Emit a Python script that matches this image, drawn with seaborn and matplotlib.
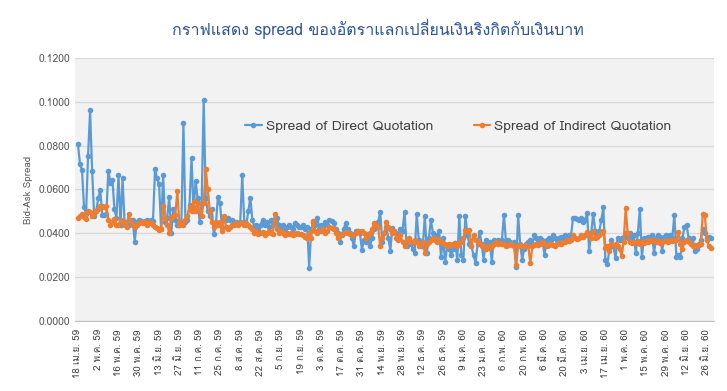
import numpy as np
import pandas as pd
import matplotlib
matplotlib.use('Agg')
import matplotlib.pyplot as plt
import seaborn as sns
from matplotlib import font_manager
from matplotlib.ft2font import FT2Font

# Data: daily spread (business days) 18 Apr 2016 - 28 Jun 2017
start_date = '2016-04-18'
end_date = '2017-06-28'

direct = [
    0.0807, 0.0716, 0.0689, 0.0520, 0.0490, 0.0753, 0.0960, 0.0684, 0.0480, 0.0500,
    0.0560, 0.0598, 0.0484, 0.0485, 0.0490, 0.0686, 0.0630, 0.0645, 0.0510, 0.0470,
    0.0666, 0.0440, 0.0650, 0.0450, 0.0450, 0.0440, 0.0460, 0.0460, 0.0362, 0.0450,
    0.0460, 0.0455, 0.0450, 0.0455, 0.0460, 0.0450, 0.0460, 0.0455, 0.0693, 0.0650,
    0.0625, 0.0420, 0.0666, 0.0450, 0.0470, 0.0567, 0.0400, 0.0510, 0.0460, 0.0440,
    0.0440, 0.0450, 0.0905, 0.0450, 0.0460, 0.0530, 0.0745, 0.0500, 0.0639, 0.0560,
    0.0450, 0.0540, 0.1010, 0.0563, 0.0500, 0.0480, 0.0510, 0.0397, 0.0440, 0.0567,
    0.0540, 0.0430, 0.0470, 0.0460, 0.0470, 0.0460, 0.0460, 0.0450, 0.0450, 0.0445,
    0.0450, 0.0666, 0.0450, 0.0440, 0.0500, 0.0563, 0.0460, 0.0430, 0.0440, 0.0420,
    0.0440, 0.0460, 0.0440, 0.0450, 0.0430, 0.0460, 0.0440, 0.0445, 0.0470, 0.0440,
    0.0430, 0.0440, 0.0420, 0.0430, 0.0440, 0.0430, 0.0420, 0.0445, 0.0440, 0.0430,
    0.0430, 0.0440, 0.0420, 0.0430, 0.0243, 0.0420, 0.0450, 0.0440, 0.0470, 0.0420,
    0.0440, 0.0430, 0.0450, 0.0440, 0.0460, 0.0455, 0.0446, 0.0420, 0.0400, 0.0362,
    0.0390, 0.0420, 0.0447, 0.0420, 0.0400, 0.0380, 0.0340, 0.0410, 0.0410, 0.0400,
    0.0324, 0.0370, 0.0360, 0.0380, 0.0340, 0.0380, 0.0420, 0.0447, 0.0450, 0.0499,
    0.0360, 0.0400, 0.0430, 0.0380, 0.0320, 0.0425, 0.0410, 0.0400, 0.0380, 0.0420,
    0.0410, 0.0499, 0.0340, 0.0370, 0.0350, 0.0330, 0.0310, 0.0487, 0.0370, 0.0340,
    0.0340, 0.0480, 0.0310, 0.0380, 0.0460, 0.0400, 0.0380, 0.0390, 0.0410, 0.0293,
    0.0380, 0.0268, 0.0340, 0.0330, 0.0300, 0.0330, 0.0356, 0.0278, 0.0480, 0.0300,
    0.0280, 0.0480, 0.0390, 0.0350, 0.0340, 0.0300, 0.0266, 0.0350, 0.0408, 0.0350,
    0.0280, 0.0370, 0.0350, 0.0360, 0.0270, 0.0370, 0.0360, 0.0370, 0.0360, 0.0370,
    0.0484, 0.0360, 0.0370, 0.0360, 0.0350, 0.0360, 0.0246, 0.0482, 0.0350, 0.0280,
    0.0330, 0.0350, 0.0360, 0.0370, 0.0350, 0.0390, 0.0380, 0.0370, 0.0380, 0.0370,
    0.0300, 0.0370, 0.0380, 0.0370, 0.0390, 0.0380, 0.0370, 0.0380, 0.0385, 0.0380,
    0.0390, 0.0380, 0.0390, 0.0380, 0.0468, 0.0470, 0.0465, 0.0460, 0.0468, 0.0450,
    0.0460, 0.0494, 0.0320, 0.0400, 0.0490, 0.0410, 0.0400, 0.0410, 0.0460, 0.0520,
    0.0278, 0.0260, 0.0330, 0.0370, 0.0340, 0.0286, 0.0380, 0.0370, 0.0380, 0.0385,
    0.0400, 0.0380, 0.0400, 0.0380, 0.0390, 0.0310, 0.0400, 0.0513, 0.0290, 0.0380,
    0.0380, 0.0385, 0.0380, 0.0390, 0.0310, 0.0380, 0.0390, 0.0385, 0.0320, 0.0385,
    0.0390, 0.0385, 0.0390, 0.0380, 0.0484, 0.0290, 0.0300, 0.0290, 0.0380, 0.0430,
    0.0440, 0.0380, 0.0370, 0.0380, 0.0320, 0.0330, 0.0350, 0.0370, 0.0420, 0.0400,
    0.0380, 0.0383, 0.0380,
]

indirect = [
    0.0470, 0.0480, 0.0490, 0.0475, 0.0465, 0.0500, 0.0495, 0.0480, 0.0490, 0.0500,
    0.0510, 0.0526, 0.0526, 0.0520, 0.0526, 0.0460, 0.0440, 0.0450, 0.0465, 0.0440,
    0.0440, 0.0460, 0.0450, 0.0440, 0.0430, 0.0488, 0.0450, 0.0440, 0.0430, 0.0440,
    0.0445, 0.0450, 0.0445, 0.0450, 0.0440, 0.0450, 0.0445, 0.0440, 0.0430, 0.0425,
    0.0415, 0.0420, 0.0525, 0.0470, 0.0440, 0.0400, 0.0470, 0.0480, 0.0485, 0.0594,
    0.0440, 0.0450, 0.0440, 0.0460, 0.0480, 0.0520, 0.0500, 0.0548, 0.0500, 0.0540,
    0.0500, 0.0480, 0.0540, 0.0693, 0.0600, 0.0500, 0.0453, 0.0430, 0.0450, 0.0440,
    0.0450, 0.0410, 0.0480, 0.0430, 0.0420, 0.0430, 0.0440, 0.0440, 0.0445, 0.0440,
    0.0445, 0.0445, 0.0440, 0.0445, 0.0440, 0.0430, 0.0420, 0.0400, 0.0410, 0.0395,
    0.0400, 0.0405, 0.0390, 0.0400, 0.0410, 0.0400, 0.0395, 0.0488, 0.0420, 0.0400,
    0.0410, 0.0400, 0.0390, 0.0400, 0.0395, 0.0400, 0.0390, 0.0395, 0.0400, 0.0395,
    0.0395, 0.0390, 0.0385, 0.0380, 0.0400, 0.0380, 0.0458, 0.0410, 0.0400, 0.0410,
    0.0410, 0.0420, 0.0400, 0.0410, 0.0430, 0.0424, 0.0420, 0.0400, 0.0380, 0.0390,
    0.0395, 0.0400, 0.0405, 0.0400, 0.0395, 0.0390, 0.0395, 0.0400, 0.0410, 0.0405,
    0.0410, 0.0400, 0.0380, 0.0395, 0.0400, 0.0420, 0.0447, 0.0440, 0.0430, 0.0340,
    0.0380, 0.0400, 0.0453, 0.0430, 0.0420, 0.0400, 0.0410, 0.0380, 0.0370, 0.0390,
    0.0360, 0.0340, 0.0370, 0.0380, 0.0360, 0.0360, 0.0370, 0.0360, 0.0340, 0.0350,
    0.0360, 0.0310, 0.0350, 0.0360, 0.0370, 0.0380, 0.0370, 0.0360, 0.0375, 0.0360,
    0.0355, 0.0350, 0.0340, 0.0350, 0.0345, 0.0350, 0.0355, 0.0340, 0.0350, 0.0360,
    0.0380, 0.0415, 0.0410, 0.0415, 0.0340, 0.0390, 0.0370, 0.0360, 0.0350, 0.0340,
    0.0340, 0.0330, 0.0340, 0.0335, 0.0340, 0.0350, 0.0360, 0.0350, 0.0355, 0.0350,
    0.0350, 0.0340, 0.0345, 0.0350, 0.0345, 0.0340, 0.0255, 0.0340, 0.0345, 0.0340,
    0.0340, 0.0345, 0.0340, 0.0263, 0.0340, 0.0345, 0.0350, 0.0345, 0.0350, 0.0360,
    0.0350, 0.0340, 0.0345, 0.0350, 0.0345, 0.0340, 0.0350, 0.0355, 0.0350, 0.0360,
    0.0360, 0.0370, 0.0365, 0.0370, 0.0390, 0.0380, 0.0375, 0.0380, 0.0390, 0.0385,
    0.0390, 0.0404, 0.0390, 0.0380, 0.0410, 0.0380, 0.0385, 0.0390, 0.0400, 0.0410,
    0.0333, 0.0340, 0.0320, 0.0350, 0.0345, 0.0350, 0.0340, 0.0330, 0.0297, 0.0360,
    0.0514, 0.0400, 0.0360, 0.0355, 0.0360, 0.0355, 0.0365, 0.0350, 0.0360, 0.0355,
    0.0365, 0.0360, 0.0370, 0.0365, 0.0370, 0.0360, 0.0365, 0.0355, 0.0360, 0.0365,
    0.0365, 0.0360, 0.0370, 0.0365, 0.0370, 0.0370, 0.0405, 0.0350, 0.0330, 0.0360,
    0.0370, 0.0360, 0.0350, 0.0340, 0.0345, 0.0340, 0.0345, 0.0350, 0.0487, 0.0485,
    0.0370, 0.0340, 0.0335,
]

tick_labels = [
    "18 เม.ย. 59", "2 พ.ค. 59", "16 พ.ค. 59", "30 พ.ค. 59", "13 มิ.ย. 59",
    "27 มิ.ย. 59", "11 ก.ค. 59", "25 ก.ค. 59", "8 ส.ค. 59", "22 ส.ค. 59",
    "5 ก.ย. 59", "19 ก.ย. 59", "3 ต.ค. 59", "17 ต.ค. 59", "31 ต.ค. 59",
    "14 พ.ย. 59", "28 พ.ย. 59", "12 ธ.ค. 59", "26 ธ.ค. 59", "9 ม.ค. 60",
    "23 ม.ค. 60", "6 ก.พ. 60", "20 ก.พ. 60", "6 มี.ค. 60", "20 มี.ค. 60",
    "3 เม.ย. 60", "17 เม.ย. 60", "1 พ.ค. 60", "15 พ.ค. 60", "29 พ.ค. 60",
    "12 มิ.ย. 60", "26 มิ.ย. 60",
]

title = "กราฟแสดง spread ของอัตราแลกเปลี่ยนเงินริงกิตกับเงินบาท"


def find_thai_font():
    for f in font_manager.fontManager.ttflist:
        try:
            cmap = FT2Font(f.fname).get_charmap()
        except Exception:
            continue
        if ord('ก') in cmap and ord('ี') in cmap:
            return f.name
    return None


dates = pd.bdate_range(start_date, end_date)
df = pd.DataFrame({'date': dates, 'direct': direct, 'indirect': indirect})
df['pos'] = np.arange(len(df))

tick_dates = pd.date_range(start_date, end_date, freq='14D')
tick_pos = [dates.get_loc(d) for d in tick_dates]

sns.set_style('white')
thai = find_thai_font()
families = ([thai] if thai else []) + ['DejaVu Sans']
plt.rcParams['font.family'] = families

fig = plt.figure(figsize=(7.27, 3.91), dpi=100)
ax = fig.add_axes([0.103, 0.179, 0.879, 0.673])
ax.set_facecolor('#F2F2F2')

sns.lineplot(data=df, x='pos', y='direct', ax=ax, color='#5B9BD5', marker='o',
             markersize=4, markeredgewidth=0, linewidth=1.6,
             label='Spread of Direct Quotation')
sns.lineplot(data=df, x='pos', y='indirect', ax=ax, color='#ED7D31', marker='o',
             markersize=4, markeredgewidth=0, linewidth=1.6,
             label='Spread of Indirect Quotation')

ax.set_ylim(0, 0.12)
ax.set_yticks(np.arange(0, 0.1201, 0.02))
ax.yaxis.set_major_formatter(plt.FuncFormatter(lambda v, p: f'{v:.4f}'))
ax.set_xlim(-1.5, len(df) + 0.5)
ax.set_xticks(tick_pos)
ax.set_xticklabels(tick_labels, rotation=90, fontsize=7, color='#404040')
ax.tick_params(axis='y', labelsize=7.5, colors='#595959', length=0)
ax.tick_params(axis='x', length=4, color='#BFBFBF', pad=2)
ax.grid(axis='y', color='#D9D9D9', linewidth=0.9)
ax.set_axisbelow(True)
for s in ['top', 'right', 'left']:
    ax.spines[s].set_visible(False)
ax.spines['bottom'].set_color('#BFBFBF')

ax.set_xlabel('')
ax.set_ylabel('Bid-Ask Spread', fontsize=7, color='#595959')

ax.legend(loc='upper center', bbox_to_anchor=(0.60, 0.81), ncol=2, frameon=False,
          fontsize=10, handlelength=1.2, handletextpad=0.3, columnspacing=2.9,
          labelcolor='#404040')

fig.text(0.52, 0.925, title, ha='center', va='center', fontsize=11.5, color='#2F5597')

fig.savefig('out.png', dpi=100)
